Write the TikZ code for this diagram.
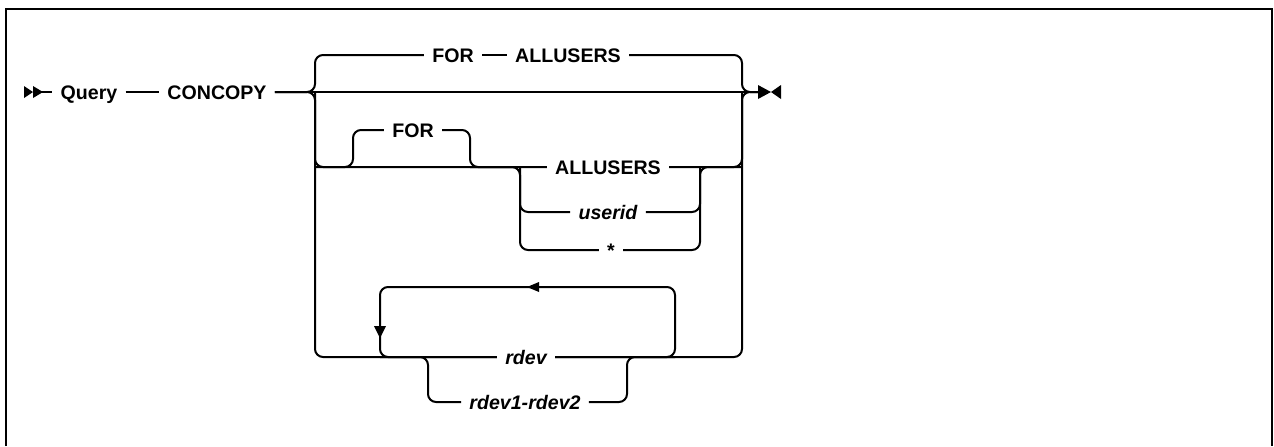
\documentclass[tikz,border=0pt]{standalone}
\usepackage{fontspec}
\setmainfont{Liberation Sans}
\usetikzlibrary{positioning}

\begin{document}
\begin{tikzpicture}[x=0.5pt,y=-0.5pt,
  rail/.style={line width=1pt, rounded corners=4pt},
  kw/.style={font=\fontsize{9.8pt}{12pt}\selectfont\bfseries, inner xsep=4pt, inner ysep=0pt, text height=7pt, text depth=0pt},
  var/.style={kw, font=\fontsize{9.8pt}{12pt}\selectfont\bfseries\itshape}]
  \useasboundingbox (0,0) rectangle (1274,446);
  \draw[line width=1.1pt] (6,446) -- (6,9) -- (1272,9) -- (1272,446);

  % keywords and variables
  \node[kw] (query) at (89,92) {Query};
  \node[kw] (concopy) at (217,92) {CONCOPY};
  \node[kw] (for1) at (453,55) {FOR};
  \node[kw] (all1) at (568,55) {ALLUSERS};
  \node[kw] (for2) at (413,130) {FOR};
  \node[kw] (all2) at (608,167) {ALLUSERS};
  \node[var] (userid) at (608,212) {userid};
  \node[kw] (star) at (611,250) {*};
  \node[var] (rdev) at (526,357) {rdev};
  \node[var] (range) at (525,402) {rdev1-rdev2};

  % rail junctions
  \coordinate (begin) at (33,92);
  \coordinate (exit) at (760,92);
  \coordinate (c1) at (315,92);
  \coordinate (c2) at (742,92);
  \coordinate (f1) at (353,167);
  \coordinate (f2) at (470,167);
  \coordinate (s1) at (520,167);
  \coordinate (s2) at (700,167);
  \coordinate (l1) at (380,357);
  \coordinate (l2) at (675,287);
  \coordinate (r1) at (428,357);
  \coordinate (r2) at (627,357);

  \fill (24,86) -- (33,92) -- (24,98) -- cycle;
  \fill (33,86) -- (43,92) -- (33,98) -- cycle;
  \draw[rail] (begin) -- (query);
  \draw[rail] (query) -- (concopy);
  \draw[rail] (concopy) -- (exit);
  \draw[rail] (concopy.east) -| (c1 |- for1) -- (for1);
  \draw[rail] (concopy.east) -| (c1 |- rdev) -- (rdev);
  \draw[rail] (for1) -- (all1);
  \draw[rail] (all1) -| (c2) -- (exit);
  \draw[rail] (rdev) -| (c2) -- (exit);

  \draw[rail] (c1) |- (all2);
  \draw[rail] (c1 |- f1) -| (f1 |- for2) -- (for2);
  \draw[rail] (for2) -| (f2) -- (s1);
  \draw[rail] (f2) -| (s1 |- star) -- (star);
  \draw[rail] (s1) |- (userid);
  \draw[rail] (userid) -| (s2);
  \draw[rail] (star) -| (s2) -- (c2 |- s2);
  \draw[rail] (all2) -| (c2);

  \draw[rail] (rdev) -| (l2) -| (l1) -- (rdev);
  \draw[rail] (l1) -| (r1 |- range) -- (range);
  \draw[rail] (range) -| (r2) -- (l2 |- rdev);
  \fill (527,287) -- (539,282) -- (539,292) -- cycle;
  \fill (380,338) -- (374,326) -- (386,326) -- cycle;

  \fill (758,85) -- (771,92) -- (758,99) -- cycle;
  \fill (781,85) -- (771,92) -- (781,99) -- cycle;
\end{tikzpicture}
\end{document}
